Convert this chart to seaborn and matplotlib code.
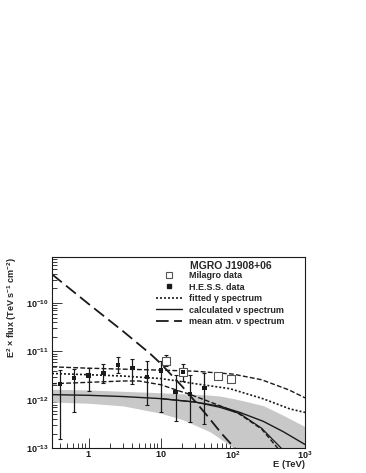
import numpy as np
import pandas as pd
import matplotlib
matplotlib.use("Agg")
import matplotlib.pyplot as plt
from matplotlib.lines import Line2D
from matplotlib.ticker import FixedLocator, FixedFormatter, LogLocator, NullFormatter
import seaborn as sns

# ---------------------------------------------------------------- data
# H.E.S.S. points (E in TeV, E^2 flux in TeV s^-1 cm^-2)
hess_e = [0.40, 0.63, 1.0, 1.6, 2.55, 4.05, 6.4, 10.1, 16.0, 20.2, 25.2, 40.3]
hess_f = [2.15e-12, 2.8e-12, 3.2e-12, 3.6e-12, 5.3e-12, 4.6e-12, 3.0e-12,
          4.0e-12, 1.45e-12, 3.8e-12, 1.31e-12, 1.78e-12]
hess_hi = [4.1e-12, 4.3e-12, 4.6e-12, 5.4e-12, 7.8e-12, 6.9e-12, 6.4e-12,
           6.4e-12, 3.2e-12, 5.6e-12, 3.2e-12, 3.5e-12]
hess_lo = [1.55e-13, 5.7e-13, 1.5e-12, 2.26e-12, 3.5e-12, 2.15e-12, 8.0e-13,
           5.7e-13, 3.6e-13, 2.5e-12, 3.5e-13, 3.2e-13]

# Milagro points
mil_e = [12.0, 20.2, 63.0, 93.0]
mil_f = [6.4e-12, 3.8e-12, 3.1e-12, 2.7e-12]
mil_hi = [8.6e-12, 3.8e-12, 3.1e-12, 2.7e-12]
mil_lo = [5.0e-12, 3.8e-12, 3.1e-12, 2.7e-12]

# fitted gamma spectrum and its upper / lower bounds
gam_e = [0.31, 1, 3, 10, 18.6, 30, 91, 264, 617, 1000]
gam_f = [3.5e-12, 3.3e-12, 3.1e-12, 2.75e-12, 2.4e-12, 2.15e-12, 1.7e-12,
         1.05e-12, 6.5e-13, 5.5e-13]
gup_e = [0.31, 1, 3, 10, 30, 100, 250, 600, 1000]
gup_f = [4.8e-12, 4.5e-12, 4.3e-12, 4.1e-12, 3.9e-12, 3.4e-12, 2.6e-12,
         1.6e-12, 1.1e-12]
glo_e = [0.31, 1, 3, 5, 10, 18.6, 25, 60, 118, 250, 420]
glo_f = [2.15e-12, 2.3e-12, 2.45e-12, 2.45e-12, 2.05e-12, 1.5e-12, 1.31e-12,
         8.0e-13, 5.3e-13, 2.5e-13, 1.0e-13]

# calculated neutrino spectrum (+ cutoff variant) and its uncertainty band
nu_e = [0.31, 1, 3, 10, 30, 66, 125, 264, 500, 1000]
nu_f = [1.28e-12, 1.24e-12, 1.17e-12, 1.06e-12, 9.0e-13, 7.4e-13, 5.5e-13,
        3.6e-13, 2.2e-13, 1.2e-13]
nuc_e = [10, 30, 66, 125, 250, 470]
nuc_f = [1.06e-12, 9.0e-13, 7.0e-13, 5.2e-13, 2.6e-13, 1.0e-13]
band_e = [0.31, 1, 3, 10, 20, 48, 66, 105, 150, 264, 500, 1000]
band_hi = [1.65e-12, 1.6e-12, 1.5e-12, 1.4e-12, 1.33e-12, 1.25e-12, 1.2e-12,
           1.05e-12, 9.3e-13, 7.6e-13, 4.8e-13, 2.8e-13]
band_lo = [9.0e-13, 8.5e-13, 7.5e-13, 5.3e-13, 3.9e-13, 2.2e-13, 1.6e-13,
           1.0e-13, 5e-14, 5e-14, 5e-14, 5e-14]

# mean atmospheric neutrino spectrum
atm_e = [0.31, 1, 3, 7.1, 10, 20, 40, 70, 110]
atm_f = [3.9e-10, 9.5e-11, 2.6e-11, 9.0e-12, 5.6e-12, 1.86e-12, 5.6e-13,
         2.0e-13, 9.5e-14]

xticks = [1, 10, 100, 1000]
xlabels = [r"$\mathbf{1}$", r"$\mathbf{10}$", r"$\mathbf{10^{2}}$", r"$\mathbf{10^{3}}$"]
yticks = [1e-13, 1e-12, 1e-11, 1e-10]
ylabels = [r"$\mathbf{10^{-13}}$", r"$\mathbf{10^{-12}}$",
           r"$\mathbf{10^{-11}}$", r"$\mathbf{10^{-10}}$"]

# ---------------------------------------------------------------- style
sns.set_theme(style="white")
plt.rcParams["font.family"] = ["Liberation Sans", "DejaVu Sans"]
plt.rcParams["font.weight"] = "bold"
plt.rcParams["mathtext.fontset"] = "custom"
plt.rcParams["mathtext.rm"] = "Liberation Sans:bold"
plt.rcParams["mathtext.bf"] = "Liberation Sans:bold"
plt.rcParams["mathtext.it"] = "Liberation Sans:bold"

W, H = 366, 473
fig = plt.figure(figsize=(W / 100, H / 100), dpi=100)
ax = fig.add_axes([52 / W, 1 - 448.3 / H, 253 / W, 191.6 / H])
ax.set_xscale("log")
ax.set_yscale("log")
ax.set_xlim(0.31, 1000)
ax.set_ylim(1e-13, 9e-10)

# uncertainty band of the neutrino spectrum
ax.fill_between(band_e, band_lo, band_hi, color="#c8c8c8", lw=0, zorder=1)

lw = 1.0
sns.lineplot(x=gup_e, y=gup_f, ax=ax, color="k", lw=lw, linestyle=(0, (3.5, 1.6)), zorder=3)
sns.lineplot(x=glo_e, y=glo_f, ax=ax, color="k", lw=lw, linestyle=(0, (3.5, 1.6)), zorder=3)
sns.lineplot(x=gam_e, y=gam_f, ax=ax, color="k", lw=1.2, linestyle=(0, (1.2, 1.2)), zorder=3)
sns.lineplot(x=nu_e, y=nu_f, ax=ax, color="k", lw=lw, zorder=3)
sns.lineplot(x=nuc_e, y=nuc_f, ax=ax, color="k", lw=0.9, zorder=3)
sns.lineplot(x=atm_e, y=atm_f, ax=ax, color="k", lw=1.3, linestyle=(0, (7, 3)), zorder=3)

# data points
ax.errorbar(hess_e, hess_f,
            yerr=[np.array(hess_f) - np.array(hess_lo), np.array(hess_hi) - np.array(hess_f)],
            fmt="none", ecolor="k", elinewidth=0.9, capsize=1.3, capthick=0.8, zorder=4)
ax.errorbar(mil_e, mil_f,
            yerr=[np.array(mil_f) - np.array(mil_lo), np.array(mil_hi) - np.array(mil_f)],
            fmt="none", ecolor="k", elinewidth=0.9, capsize=1.3, capthick=0.8, zorder=4)
sns.scatterplot(x=mil_e, y=mil_f, ax=ax, marker="s", s=26, facecolor="white",
                edgecolor="#555555", linewidth=0.8, zorder=5)
sns.scatterplot(x=hess_e, y=hess_f, ax=ax, marker="s", s=10, color="k",
                edgecolor="none", linewidth=0, zorder=6)

# axes / ticks
ax.xaxis.set_major_locator(FixedLocator(xticks))
ax.xaxis.set_major_formatter(FixedFormatter(xlabels))
ax.xaxis.set_minor_locator(LogLocator(base=10, subs=np.arange(2, 10)))
ax.xaxis.set_minor_formatter(NullFormatter())
ax.yaxis.set_major_locator(FixedLocator(yticks))
ax.yaxis.set_major_formatter(FixedFormatter(ylabels))
ax.yaxis.set_minor_locator(LogLocator(base=10, subs=np.arange(2, 10)))
ax.yaxis.set_minor_formatter(NullFormatter())
ax.tick_params(which="both", direction="in", top=False, right=False,
               left=True, bottom=True, width=0.6, colors="k", labelsize=6.5)
ax.tick_params(which="major", length=7, pad=2.5)
ax.tick_params(which="minor", length=3.5)
ax.tick_params(axis="x", which="major", pad=0.5)
for sp in ax.spines.values():
    sp.set_color("k")
    sp.set_linewidth(0.8)
ax.grid(False)

fig.text(12 / W, 1 - 257 / H, r"E$^{2}$ $\times$ flux (TeV s$^{-1}$ cm$^{-2}$)",
         rotation=90, ha="center", va="top", fontsize=6.5, weight="bold")
fig.text(305 / W, 1 - 464 / H, "E (TeV)", ha="right", va="center",
         fontsize=6.8, weight="bold")

# legend
handles = [
    Line2D([], [], ls="none", marker="s", ms=5, mfc="white", mec="#555555", mew=0.8),
    Line2D([], [], ls="none", marker="s", ms=3.2, color="k"),
    Line2D([], [], color="k", lw=1.2, ls=(0, (1.2, 1.2))),
    Line2D([], [], color="k", lw=1.0),
    Line2D([], [], color="k", lw=1.3, ls=(0, (7, 3))),
]
labels = ["Milagro data", "H.E.S.S. data", "fitted \u03b3 spectrum",
          "calculated \u03bd spectrum", "mean atm. \u03bd spectrum"]
fig.legend(handles, labels, loc="upper left",
           bbox_to_anchor=(156 / W, 1 - 271 / H), bbox_transform=fig.transFigure,
           frameon=False, handlelength=2.9, handletextpad=0.75,
           borderpad=0, borderaxespad=0, labelspacing=0.28,
           prop={"weight": "bold", "size": 6.5})
fig.text(190 / W, 1 - 265.5 / H, "MGRO J1908+06", ha="left", va="center",
         fontsize=7.5, weight="bold")

fig.savefig("out.png", dpi=100)
